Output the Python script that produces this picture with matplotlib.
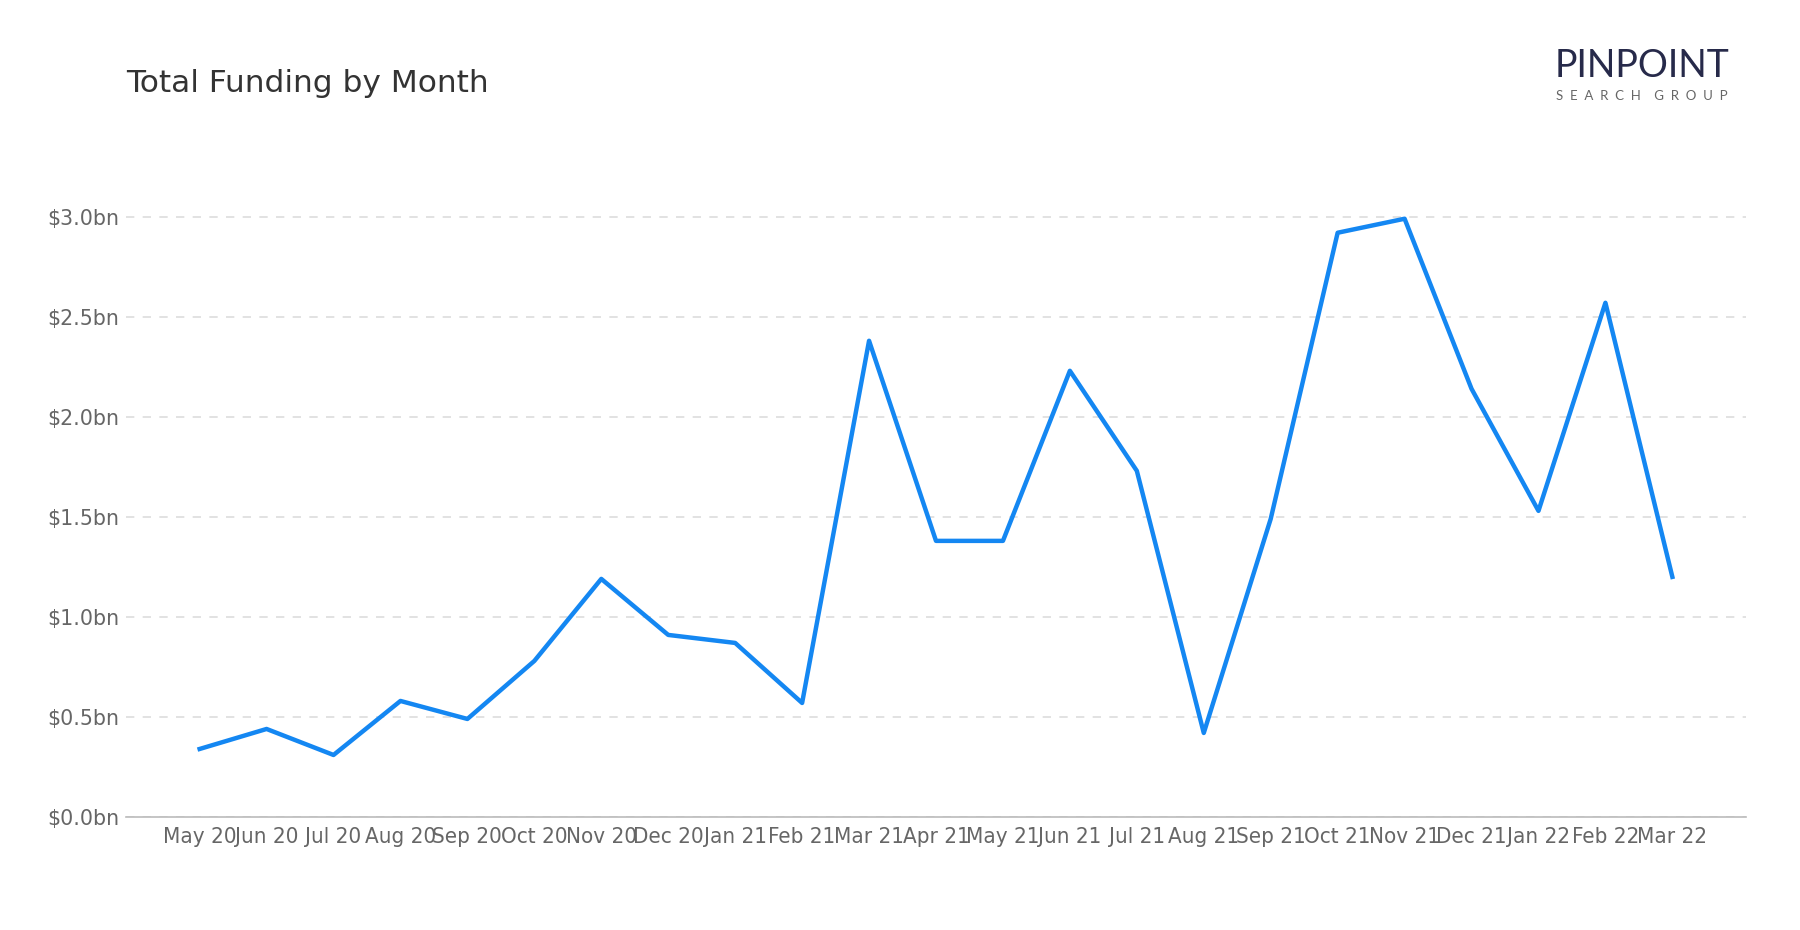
import matplotlib.pyplot as plt

plt.rcParams['font.family'] = ['DejaVu Sans']

months = ['May 20', 'Jun 20', 'Jul 20', 'Aug 20', 'Sep 20', 'Oct 20', 'Nov 20', 'Dec 20',
          'Jan 21', 'Feb 21', 'Mar 21', 'Apr 21', 'May 21', 'Jun 21', 'Jul 21', 'Aug 21',
          'Sep 21', 'Oct 21', 'Nov 21', 'Dec 21', 'Jan 22', 'Feb 22', 'Mar 22']
funding = [0.34, 0.44, 0.31, 0.58, 0.49, 0.78, 1.19, 0.91,
           0.87, 0.57, 2.38, 1.38, 1.38, 2.23, 1.73, 0.42,
           1.49, 2.92, 2.99, 2.14, 1.53, 2.57, 1.20]
yticks = [0.0, 0.5, 1.0, 1.5, 2.0, 2.5, 3.0]

fig = plt.figure(figsize=(18, 9.3), dpi=100)
ax = fig.add_axes([0.07, 0.1215, 0.9, 0.71])

x = list(range(len(months)))
ax.plot(x, funding, color='#1487f2', lw=3.2, solid_joinstyle='round', zorder=3)

ax.set_xlim(-1.1, len(months) - 1 + 1.1)
ax.set_ylim(0, 3.3)
ax.set_yticks(yticks)
ax.set_yticklabels([f'${v:.1f}bn' for v in yticks], fontsize=14.8, color='#666666')
ax.set_xticks(x)
ax.set_xticklabels(months, fontsize=16, color='#666666', fontstretch='condensed')
ax.tick_params(axis='y', length=0, pad=5)
ax.tick_params(axis='x', length=0, pad=7)

ax.grid(axis='y', color='#dddddd', ls=(0, (5, 5)), lw=1.2)
ax.set_axisbelow(True)
for s in ['top', 'right', 'left']:
    ax.spines[s].set_visible(False)
ax.spines['bottom'].set_color('#bbbbbb')
ax.spines['bottom'].set_linewidth(1.2)

fig.text(0.07, 0.91, 'Total Funding by Month', fontsize=22.5, color='#333333', va='center')

# logo
fig.text(0.912, 0.929, 'PINPOINT', fontsize=27, color='#272a4a', ha='center', va='center',
         family='Lato')
fig.text(0.912, 0.897, 'S  E  A  R  C  H    G  R  O  U  P', fontsize=9.5, color='#666666',
         ha='center', va='center', family='Lato')

fig.savefig('out.png', dpi=100)
